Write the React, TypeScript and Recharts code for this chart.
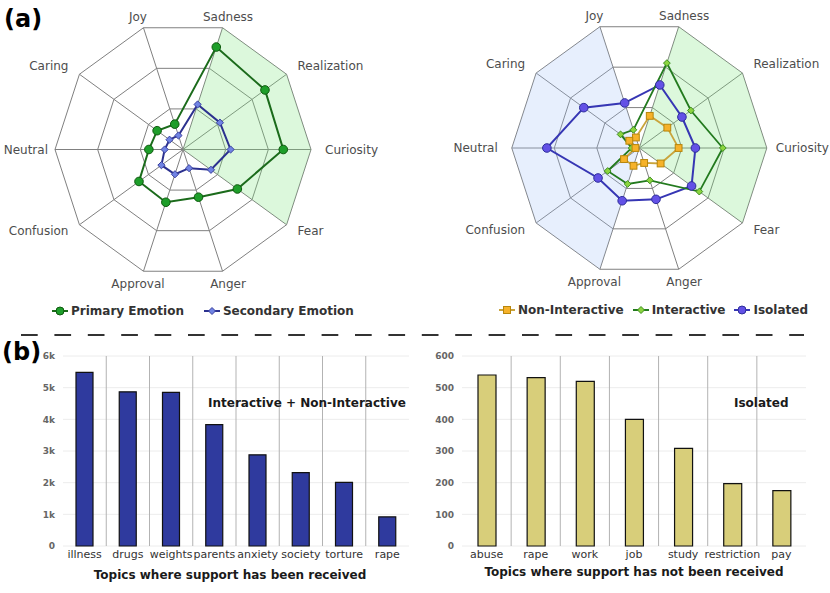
import React from "react";
import {
  RadarChart,
  Radar,
  PolarGrid,
  PolarAngleAxis,
  PolarRadiusAxis,
  BarChart,
  Bar,
  XAxis,
  YAxis,
  CartesianGrid,
  ReferenceArea,
} from "recharts";

// emotions, clockwise starting from the upper-left axis
const EMOTIONS = ["Joy", "Sadness", "Realization", "Curiosity", "Fear", "Anger", "Approval", "Confusion", "Neutral", "Caring"];

const PRIMARY = [12.5, 50.5, 47.5, 47, 31.5, 23.5, 26, 25.5, 16, 15];
const SECONDARY = [6.9, 22.2, 21.4, 22.3, 16.2, 9.2, 12.2, 12.5, 8.6, 7.8];
const NON_INTERACTIVE = [5.2, 15.9, 16.3, 18.5, 12.4, 7.4, 8.8, 8.9, 1.8, 5.8];
const INTERACTIVE = [9, 42, 30, 39.3, 34.9, 16, 17.8, 18.4, 3.6, 10.9];
const ISOLATED = [22.3, 31.2, 24.8, 26.4, 30.4, 25.4, 26.1, 24, 43.5, 32.3];

const RADAR_MAX = 60;
const GREEN_ZONE = ["Sadness", "Realization", "Curiosity", "Fear"];
const BLUE_ZONE = ["Joy", "Caring", "Neutral", "Confusion", "Approval"];

const SUPPORTED_TOPICS = ["illness", "drugs", "weights", "parents", "anxiety", "society", "torture", "rape"];
const SUPPORTED_COUNTS = [5480, 4870, 4850, 3830, 2880, 2320, 2010, 920];
const SUPPORTED_TICKS = [0, 1000, 2000, 3000, 4000, 5000, 6000];

const UNSUPPORTED_TOPICS = ["abuse", "rape", "work", "job", "study", "restriction", "pay"];
const UNSUPPORTED_COUNTS = [540, 532, 520, 400, 308, 197, 175];
const UNSUPPORTED_TICKS = [0, 100, 200, 300, 400, 500, 600];

const radarData = EMOTIONS.map((emotion, i) => ({
  emotion,
  primary: PRIMARY[i],
  secondary: SECONDARY[i],
  nonInteractive: NON_INTERACTIVE[i],
  interactive: INTERACTIVE[i],
  isolated: ISOLATED[i],
  green: GREEN_ZONE.includes(emotion) ? RADAR_MAX : 0,
  blue: BLUE_ZONE.includes(emotion) ? RADAR_MAX : 0,
}));

const supportedData = SUPPORTED_TOPICS.map((topic, i) => ({ topic, count: SUPPORTED_COUNTS[i] }));
const unsupportedData = UNSUPPORTED_TOPICS.map((topic, i) => ({ topic, count: UNSUPPORTED_COUNTS[i] }));

type Series = {
  key: string;
  name: string;
  line: string;
  fill: string;
  edge: string;
  shape: "circle" | "diamond" | "square";
  size: number;
  width: number;
};

const LEFT_SERIES: Series[] = [
  { key: "secondary", name: "Secondary Emotion", line: "#2c318f", fill: "#7083e3", edge: "#3a419f", shape: "diamond", size: 3.6, width: 2 },
  { key: "primary", name: "Primary Emotion", line: "#1b6b1b", fill: "#1e9e2a", edge: "#0e5a0e", shape: "circle", size: 4.3, width: 2 },
];

const RIGHT_SERIES: Series[] = [
  { key: "isolated", name: "Isolated", line: "#3636b4", fill: "#6351e6", edge: "#2d2d9a", shape: "circle", size: 4.3, width: 2 },
  { key: "interactive", name: "Interactive", line: "#237a1e", fill: "#8bd43f", edge: "#3d8f1f", shape: "diamond", size: 3.4, width: 1.8 },
  { key: "nonInteractive", name: "Non-Interactive", line: "#c9a43c", fill: "#f6b22a", edge: "#b8860b", shape: "square", size: 3.4, width: 1.8 },
];

function Marker({ s, x, y, size }: { s: Series; x: number; y: number; size?: number }) {
  const r = size ?? s.size;
  if (s.shape === "circle") {
    return <circle cx={x} cy={y} r={r} fill={s.fill} stroke={s.edge} strokeWidth={1} />;
  }
  if (s.shape === "square") {
    return <rect x={x - r} y={y - r} width={2 * r} height={2 * r} fill={s.fill} stroke={s.edge} strokeWidth={1} />;
  }
  return (
    <path
      d={`M${x},${y - r}L${x + r},${y}L${x},${y + r}L${x - r},${y}Z`}
      fill={s.fill}
      stroke={s.edge}
      strokeWidth={1}
    />
  );
}

function makeAngleTick(rightGap: number, leftGap: number) {
  return function AngleTick(props: any) {
    const { x, y, payload } = props;
    const rad = (payload.coordinate * Math.PI) / 180;
    const cos = Math.cos(rad);
    const sin = Math.sin(rad);
    let anchor = "middle";
    let dx = 0;
    let dy = 0;
    if (Math.abs(cos) < 0.5) {
      dx = cos > 0 ? 3 : -3;
      dy = sin > 0 ? -3 : 5;
    } else if (Math.abs(sin) < 0.1) {
      anchor = cos > 0 ? "start" : "end";
      dx = cos > 0 ? rightGap : -leftGap;
    } else {
      anchor = cos > 0 ? "start" : "end";
      dx = cos > 0 ? 4.5 : -4.5;
      dy = sin > 0 ? -4 : 2;
    }
    return (
      <text
        x={x + dx}
        y={y + dy}
        textAnchor={anchor}
        dominantBaseline="central"
        fontSize={12}
        fill="#4d4d4d"
      >
        {payload.value}
      </text>
    );
  };
}

function EmotionRadar({
  series,
  cx,
  cy,
  radius,
  showBlue,
  rightGap,
  leftGap,
}: {
  series: Series[];
  cx: number;
  cy: number;
  radius: number;
  showBlue: boolean;
  rightGap: number;
  leftGap: number;
}) {
  return (
    <RadarChart
      width={415}
      height={300}
      data={radarData}
      cx={cx}
      cy={cy}
      outerRadius={radius}
      startAngle={108}
      endAngle={-252}
      margin={{ top: 0, right: 0, bottom: 0, left: 0 }}
    >
      <PolarGrid stroke="#808080" strokeWidth={1} />
      <PolarAngleAxis
        dataKey="emotion"
        tick={makeAngleTick(rightGap, leftGap)}
        tickLine={false}
        axisLine={false}
      />
      <PolarRadiusAxis domain={[0, RADAR_MAX]} tickCount={4} tick={false} axisLine={false} />
      <Radar
        dataKey="green"
        fill="#7fe57f"
        fillOpacity={0.27}
        stroke="none"
        dot={false}
        legendType="none"
        isAnimationActive={false}
      />
      {showBlue && (
        <Radar
          dataKey="blue"
          fill="#9fbff7"
          fillOpacity={0.25}
          stroke="none"
          dot={false}
          legendType="none"
          isAnimationActive={false}
        />
      )}
      {series.map((s) => (
        <Radar
          key={s.key}
          dataKey={s.key}
          name={s.name}
          stroke={s.line}
          strokeWidth={s.width}
          fill="none"
          fillOpacity={0}
          dot={(p: any) => <Marker key={`${s.key}-${p.index}`} s={s} x={p.cx} y={p.cy} />}
          isAnimationActive={false}
        />
      ))}
    </RadarChart>
  );
}

function LegendRow({ items, left, top, gap }: { items: Series[]; left: number; top: number; gap: number }) {
  return (
    <div style={{ position: "absolute", left, top, display: "flex", alignItems: "center", gap }}>
      {items.map((s) => (
        <div key={s.key} style={{ display: "flex", alignItems: "center" }}>
          <svg width={16} height={10}>
            <line x1={0} y1={5} x2={16} y2={5} stroke={s.line} strokeWidth={2} />
            <Marker s={s} x={8} y={5} size={s.shape === "circle" ? 4 : 3.5} />
          </svg>
          <span style={{ marginLeft: 3, fontWeight: "bold", fontSize: 12, color: "#333", lineHeight: "16px" }}>
            {s.name}
          </span>
        </div>
      ))}
    </div>
  );
}

function TopicBars({
  data,
  ticks,
  color,
  barSize,
  yWidth,
  rightMargin,
  kFormat,
}: {
  data: { topic: string; count: number }[];
  ticks: number[];
  color: string;
  barSize: number;
  yWidth: number;
  rightMargin: number;
  kFormat: boolean;
}) {
  const n = data.length;
  return (
    <BarChart
      width={415}
      height={263}
      data={data}
      margin={{ top: 26, right: rightMargin, bottom: 7, left: 0 }}
    >
      <CartesianGrid vertical={false} stroke="#ececec" />
      <CartesianGrid
        horizontal={false}
        stroke="#b3b3b3"
        verticalCoordinatesGenerator={({ offset }: any) =>
          Array.from({ length: n - 1 }, (_, i) => offset.left + ((i + 1) * offset.width) / n)
        }
      />
      <XAxis
        dataKey="topic"
        interval={0}
        tickLine={false}
        axisLine={false}
        tickSize={2}
        height={40}
        tick={{ fontSize: 11, fill: "#333" }}
      />
      <YAxis
        ticks={ticks}
        domain={[0, ticks[ticks.length - 1]]}
        width={yWidth}
        tickLine={false}
        axisLine={false}
        tick={{ fontSize: 9, fontWeight: "bold", fill: "#666" }}
        tickFormatter={(v: number) => (kFormat && v !== 0 ? `${v / 1000}k` : `${v}`)}
      />
      <ReferenceArea fill="none" fillOpacity={0} stroke="#999" strokeWidth={1} ifOverflow="visible" />
      <Bar dataKey="count" fill={color} stroke="#111" strokeWidth={1.2} barSize={barSize} isAnimationActive={false} />
    </BarChart>
  );
}

const boldText: React.CSSProperties = {
  position: "absolute",
  fontWeight: "bold",
  fontSize: 12,
  color: "#1a1a1a",
  whiteSpace: "nowrap",
  lineHeight: "14px",
};

export default function App() {
  return (
    <div
      style={{
        position: "absolute",
        left: 0,
        top: 0,
        width: 830,
        height: 593,
        background: "#fff",
        fontFamily: '"DejaVu Sans", Verdana, sans-serif',
        overflow: "hidden",
      }}
    >
      <svg width={830} height={593} style={{ position: "absolute", left: 0, top: 0 }}>
        <text x={4} y={26.5} fontSize={24} fontWeight="bold" fill="#000">
          (a)
        </text>
        <text x={2} y={360} fontSize={24} fontWeight="bold" fill="#000">
          (b)
        </text>
        <line x1={21} y1={335} x2={804} y2={335} stroke="#333" strokeWidth={2} strokeDasharray="16.7 16.7" />
      </svg>

      <div style={{ position: "absolute", left: 0, top: 0 }}>
        <EmotionRadar series={LEFT_SERIES} cx={183} cy={149.5} radius={128} showBlue={false} rightGap={6} leftGap={-1} />
      </div>
      <div style={{ position: "absolute", left: 415, top: 0 }}>
        <EmotionRadar series={RIGHT_SERIES} cx={224.3} cy={148} radius={127.5} showBlue={true} rightGap={1} leftGap={6} />
      </div>

      <LegendRow items={[LEFT_SERIES[1], LEFT_SERIES[0]]} left={52} top={303} gap={20} />
      <LegendRow items={[RIGHT_SERIES[2], RIGHT_SERIES[1], RIGHT_SERIES[0]]} left={499} top={302} gap={9} />

      <div style={{ position: "absolute", left: 0, top: 330 }}>
        <TopicBars
          data={supportedData}
          ticks={SUPPORTED_TICKS}
          color="#2f3a9e"
          barSize={17}
          yWidth={63}
          rightMargin={6}
          kFormat={true}
        />
      </div>
      <div style={{ position: "absolute", left: 415, top: 330 }}>
        <TopicBars
          data={unsupportedData}
          ticks={UNSUPPORTED_TICKS}
          color="#d8ce7a"
          barSize={18}
          yWidth={47}
          rightMargin={24}
          kFormat={false}
        />
      </div>

      <div style={{ ...boldText, left: 208, top: 396 }}>Interactive + Non-Interactive</div>
      <div style={{ ...boldText, left: 734, top: 396 }}>Isolated</div>
      <div style={{ ...boldText, left: 230, top: 568, transform: "translateX(-50%)" }}>
        Topics where support has been received
      </div>
      <div style={{ ...boldText, left: 634, top: 565, transform: "translateX(-50%)" }}>
        Topics where support has not been received
      </div>
    </div>
  );
}
